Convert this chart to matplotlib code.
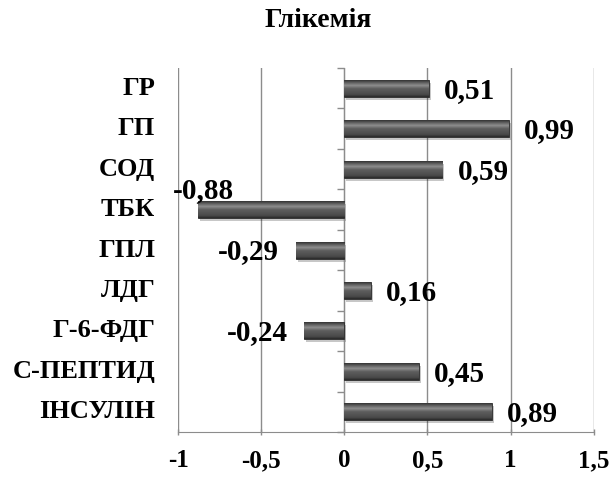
import numpy as np
import matplotlib
matplotlib.use("Agg")
import matplotlib.pyplot as plt
from matplotlib.colors import LinearSegmentedColormap
from matplotlib.transforms import offset_copy

# data, bottom to top as drawn
categories = ['ІНСУЛІН', 'С-ПЕПТИД', 'Г-6-ФДГ', 'ЛДГ', 'ГПЛ', 'ТБК', 'СОД', 'ГП', 'ГР']
values = [0.89, 0.45, -0.24, 0.16, -0.29, -0.88, 0.59, 0.99, 0.51]
labels = ['0,89', '0,45', '-0,24', '0,16', '-0,29', '-0,88', '0,59', '0,99', '0,51']
xticks = [-1, -0.5, 0, 0.5, 1, 1.5]
xtick_labels = ['-1', '-0,5', '0', '0,5', '1', '1,5']
title = 'Глікемія'

plt.rcParams['font.family'] = ['Liberation Serif', 'DejaVu Serif']
plt.rcParams['font.weight'] = 'bold'

fig = plt.figure(figsize=(6.14, 4.79), dpi=100)
ax = fig.add_axes([0.290, 0.098, 0.677, 0.760])

y = np.arange(len(categories))
bar_h = 0.42
grid_c = '#8c8c8c'

# bevelled grey look, top to bottom
bevel = LinearSegmentedColormap.from_list(
    'bevel', [(0, '#333333'), (0.18, '#6a6a6a'), (0.32, '#8e8e8e'), (0.5, '#5e5e5e'),
              (0.85, '#4a4a4a'), (1, '#2a2a2a')])
grad = np.linspace(0, 1, 64).reshape(-1, 1)

# soft shadow under each bar
sh = offset_copy(ax.transData, fig=fig, x=2, y=-3, units='dots')
ax.barh(y, values, height=bar_h, color='#000000', alpha=0.22, zorder=2, transform=sh)
bars = ax.barh(y, values, height=bar_h, color='#555555', edgecolor='#2a2a2a', linewidth=0.6, zorder=3)
for b in bars:
    x0, y0 = b.get_x(), b.get_y()
    w, h = b.get_width(), b.get_height()
    im = ax.imshow(grad, cmap=bevel, aspect='auto', zorder=4,
                   extent=[min(x0, x0 + w), max(x0, x0 + w), y0, y0 + h], origin='upper')
    im.set_clip_path(b)

# data labels
for yi, v, lab in zip(y, values, labels):
    if v >= 0:
        t = offset_copy(ax.transData, fig=fig, x=15, y=-2, units='dots')
        ax.text(v, yi, lab, transform=t, ha='left', va='center', fontsize=21, fontweight='bold', zorder=6)
    elif v < -0.5:
        t = offset_copy(ax.transData, fig=fig, x=-25, y=6, units='dots')
        ax.text(v, yi, lab, transform=t, ha='left', va='bottom', fontsize=21, fontweight='bold', zorder=6)
    else:
        t = offset_copy(ax.transData, fig=fig, x=-17, y=-2, units='dots')
        ax.text(v, yi, lab, transform=t, ha='right', va='center', fontsize=21, fontweight='bold', zorder=6)

ax.set_xlim(-1, 1.5)
ax.set_ylim(-0.5, len(categories) - 0.5)
ax.set_xticks(xticks)
ax.set_xticklabels(xtick_labels, fontsize=18, fontweight='bold')
ax.tick_params(axis='x', length=5, width=1, color=grid_c, pad=10, direction='inout')
ax.grid(axis='x', color=grid_c, linewidth=1, zorder=0)
ax.set_axisbelow(True)

# zero axis with category-boundary ticks
for s in ['top', 'right']:
    ax.spines[s].set_visible(False)
ax.spines['left'].set_position(('data', 0))
ax.spines['left'].set_color(grid_c)
ax.spines['bottom'].set_color(grid_c)
ax.set_yticks(np.arange(len(categories) + 1) - 0.5)
ax.set_yticklabels([])
ax.tick_params(axis='y', length=5, width=1, color=grid_c, direction='out')

for yi, cat in zip(y, categories):
    ax.text(-0.055, yi, cat, transform=ax.get_yaxis_transform(), ha='right', va='center',
            fontsize=19, fontweight='bold')

fig.text(0.518, 0.958, title, ha='center', va='center', fontsize=20, fontweight='bold')

fig.savefig('out.png', dpi=100)
